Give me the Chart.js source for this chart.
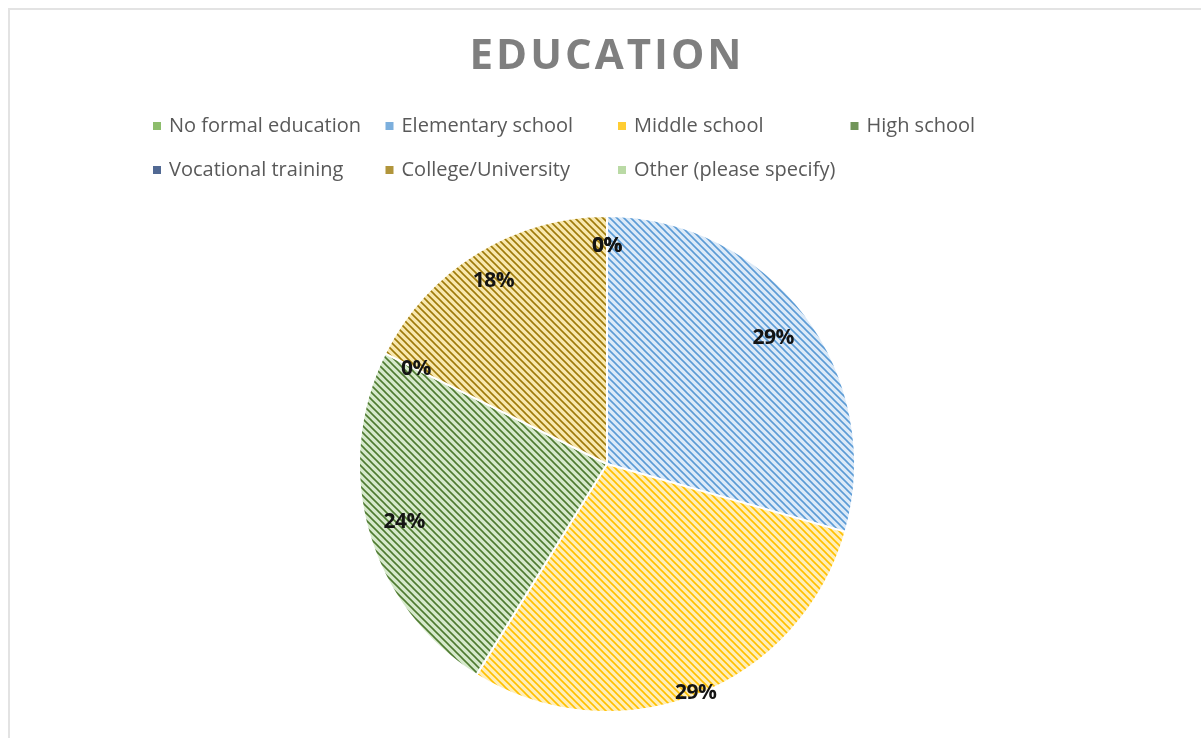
<!DOCTYPE html>
<html>
<head>
<meta charset="utf-8">
<script src="https://cdn.jsdelivr.net/npm/chart.js@4.4.1/dist/chart.umd.min.js"></script>
<style>
  body { margin: 0; background: #fff; }
  #wrap { position: relative; width: 1201px; height: 738px; overflow: hidden; }
  #frame { position: absolute; left: 8px; top: 8px; width: 1300px; height: 900px; border: 2px solid #e3e3e3; }
  #eduChart { position: absolute; left: 0; top: 0; }
</style>
</head>
<body>
<div id="wrap">
  <div id="frame"></div>
  <canvas id="eduChart" width="1201" height="738"></canvas>
</div>
<script>
// data
const categories = ["No formal education", "Elementary school", "Middle school", "High school",
                    "Vocational training", "College/University", "Other (please specify)"];
const counts = [0, 5, 5, 4, 0, 3, 0];
const titleText = "EDUCATION";

// colours: stripe + light background
const stripeColors = ['#70AD47', '#5B9BD5', '#FFC000', '#4E7A30', '#264478', '#9E7A0A', '#A9D18E'];
const fillColors   = ['#DCEDD0', '#DCEAF8', '#FFEEB8', '#D6E9CB', '#CBD5E8', '#F8E8AE', '#E8F3E0'];
// how far out (fraction of radius) each data label sits
const labelRadius = [0.88, 0.84, 0.99, 0.85, 0.86, 0.87, 0.88];

function makeStripes(bg, fg) {
  const c = document.createElement('canvas');
  c.width = 7; c.height = 7;
  const x = c.getContext('2d');
  x.fillStyle = bg;
  x.fillRect(0, 0, 7, 7);
  x.strokeStyle = fg;
  x.lineWidth = 1.6;
  x.beginPath();
  for (let k = -7; k <= 7; k += 7) {
    x.moveTo(k - 2, -2);
    x.lineTo(k + 9, 9);
  }
  x.stroke();
  return x.createPattern(c, 'repeat');
}
const patterns = fillColors.map((bg, i) => makeStripes(bg, stripeColors[i]));

const total = counts.reduce((a, b) => a + b, 0);

// title + legend + percentage labels drawn on the canvas
const decorations = {
  id: 'decorations',
  afterDatasetsDraw(chart) {
    const ctx = chart.ctx;
    const meta = chart.getDatasetMeta(0);
    ctx.save();
    ctx.fillStyle = '#141414';
    ctx.font = 'bold 21px "Open Sans"';
    ctx.letterSpacing = '-0.5px';
    ctx.textAlign = 'center';
    ctx.textBaseline = 'middle';
    meta.data.forEach((arc, i) => {
      const mid = (arc.startAngle + arc.endAngle) / 2;
      const r = arc.outerRadius * labelRadius[i];
      const pct = Math.round(counts[i] / total * 100) + '%';
      ctx.fillText(pct, arc.x + Math.cos(mid) * r, arc.y + Math.sin(mid) * r);
    });
    ctx.restore();
  },
  afterDraw(chart) {
    const ctx = chart.ctx;
    ctx.save();
    // title
    ctx.fillStyle = '#7F7F7F';
    ctx.font = 'bold 42px "Open Sans"';
    ctx.letterSpacing = '3px';
    ctx.textAlign = 'center';
    ctx.textBaseline = 'middle';
    ctx.fillText(titleText, 607, 57);
    ctx.letterSpacing = '0px';
    // legend in columns
    ctx.font = '20px "Open Sans"';
    ctx.textAlign = 'left';
    categories.forEach((name, i) => {
      const col = i < 4 ? i : i - 4;
      const row = i < 4 ? 0 : 1;
      const x = 153 + col * 232.5;
      const y = 126 + row * 44;
      ctx.fillStyle = stripeColors[i];
      ctx.globalAlpha = 0.8;
      ctx.fillRect(x, y - 4, 8, 8);
      ctx.globalAlpha = 1;
      ctx.fillStyle = '#595959';
      ctx.fillText(name, x + 16, y);
    });
    ctx.restore();
  }
};

const eduChart = new Chart(document.getElementById('eduChart'), {
  type: 'pie',
  data: {
    labels: categories,
    datasets: [{
      data: counts,
      backgroundColor: patterns,
      borderColor: '#ffffff',
      borderWidth: 2
    }]
  },
  options: {
    responsive: false,
    animation: false,
    devicePixelRatio: 1,
    layout: { padding: { top: 215, bottom: 25, left: 13, right: 0 } },
    plugins: {
      legend: { display: false },
      title: { display: false },
      tooltip: { enabled: false }
    }
  },
  plugins: [decorations]
});
</script>
</body>
</html>
